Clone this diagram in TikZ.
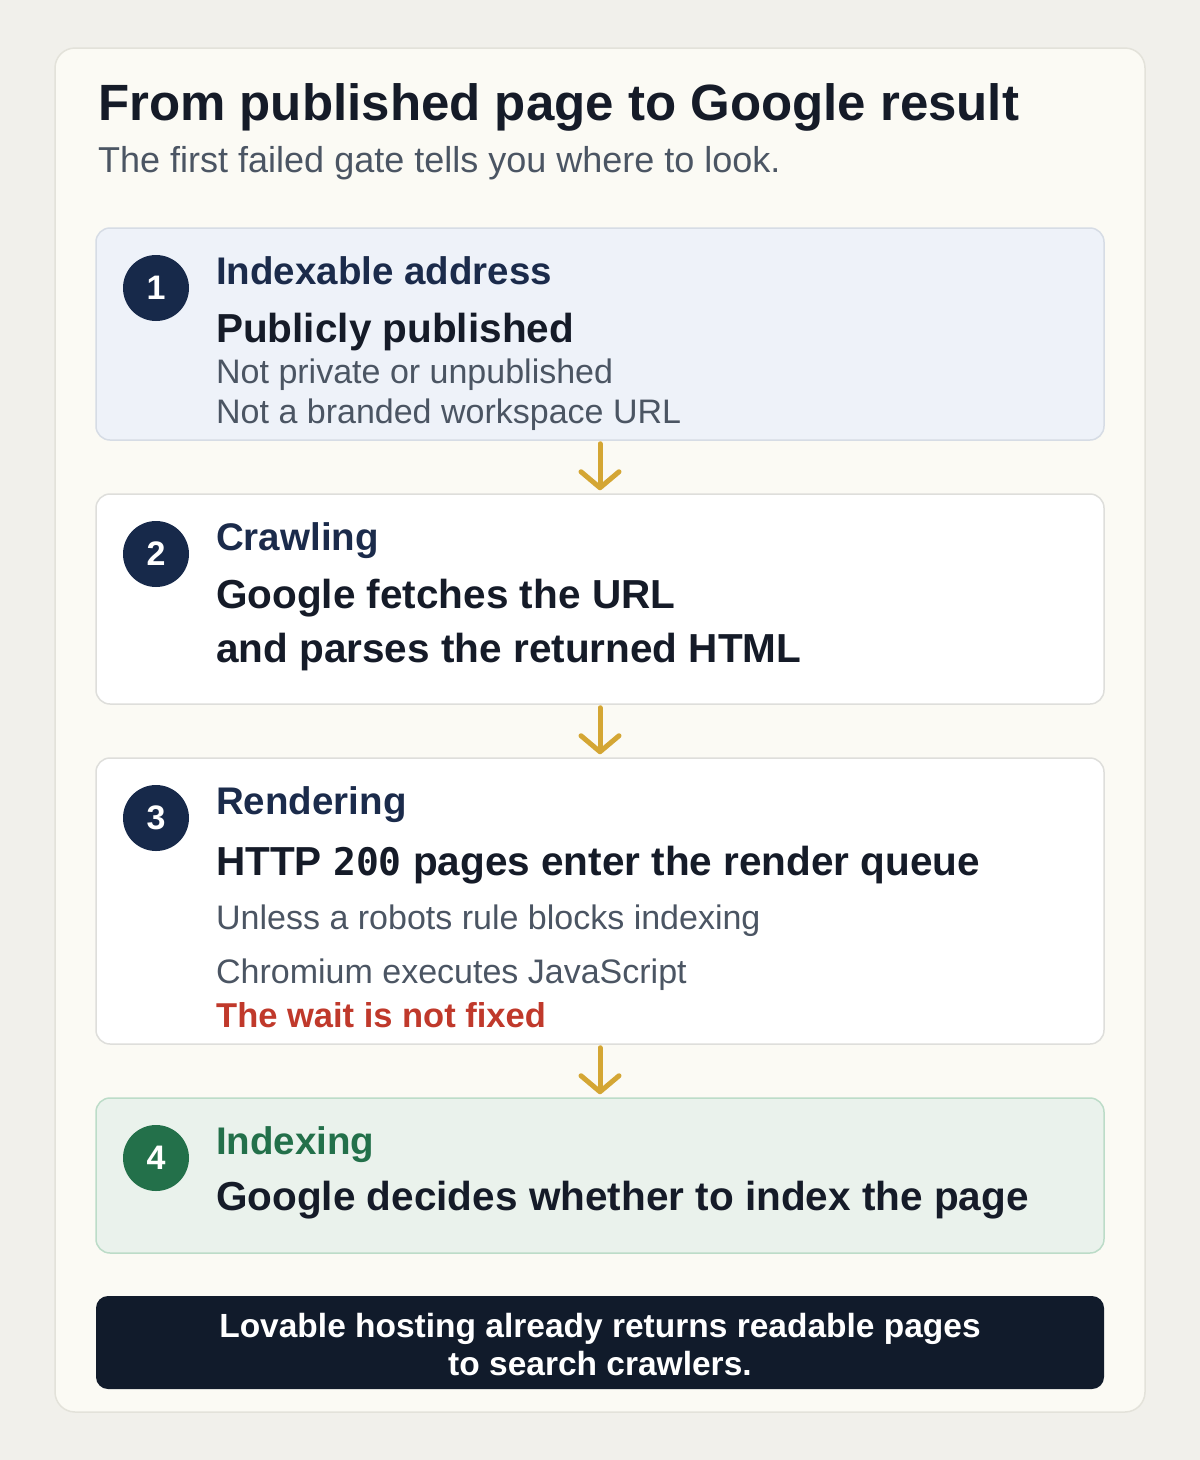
\documentclass[tikz,border=0pt]{standalone}
\usepackage{fontspec}
\setmainfont{Liberation Sans}
\setmonofont{DejaVu Sans Mono}
\usetikzlibrary{arrows.meta}
\definecolor{bgc}{HTML}{F1F0EB}
\definecolor{cardc}{HTML}{FBFAF4}
\definecolor{cardb}{HTML}{E3E2DA}
\definecolor{titlec}{HTML}{151B28}
\definecolor{subc}{HTML}{4B5563}
\definecolor{bluef}{HTML}{EEF2F9}
\definecolor{blueb}{HTML}{D6DCE5}
\definecolor{whiteb}{HTML}{DEDEDB}
\definecolor{navyc}{HTML}{17294A}
\definecolor{headc}{HTML}{1B2B4B}
\definecolor{goldc}{HTML}{D4A634}
\definecolor{redc}{HTML}{C0392B}
\definecolor{greenf}{HTML}{EAF2EC}
\definecolor{greenb}{HTML}{BCDCC8}
\definecolor{greenc}{HTML}{23704A}
\definecolor{footc}{HTML}{111B2B}
\tikzset{
  stagebox/.style={draw, line width=1.5pt, rounded corners=14pt, minimum width=1008pt, inner sep=0pt},
  numdot/.style={circle, fill=navyc, minimum size=66pt, inner sep=0pt, text=white, font=\fontsize{34}{34}\selectfont\bfseries},
  headtxt/.style={anchor=base west, inner sep=0pt, text=headc, font=\fontsize{38.5}{38.5}\selectfont\bfseries},
  maintxt/.style={anchor=base west, inner sep=0pt, text=titlec, font=\fontsize{40.5}{40.5}\selectfont\bfseries},
  subtxt/.style={anchor=base west, inner sep=0pt, text=subc, font=\fontsize{34}{34}\selectfont},
  flowarrow/.style={draw=goldc, line width=5pt, line cap=round, -{Straight Barb[length=16pt, width=38pt, line width=5pt, round]}}
}
\begin{document}
\begin{tikzpicture}[x=1pt, y=-1pt]
\fill[bgc] (0,0) rectangle (1200,1460);
\useasboundingbox (0,0) rectangle (1200,1460);
\node[draw=cardb, fill=cardc, line width=1.5pt, rounded corners=20pt, minimum width=1090pt, minimum height=1364pt, inner sep=0pt] (card) at (600,730) {};
\node[anchor=base west, inner sep=0pt, text=titlec, font=\fontsize{51}{51}\selectfont\bfseries] (title) at (98,120) {From published page to Google result};
\node[anchor=base west, inner sep=0pt, text=subc, font=\fontsize{36}{36}\selectfont] (subtitle) at (98,172) {The first failed gate tells you where to look.};
% box 1
\node[stagebox, draw=blueb, fill=bluef, minimum height=212pt] (b1) at (600,334) {};
\node[numdot] (n1) at (156,288) {1};
\node[headtxt] (h1) at (216,284) {Indexable address};
\node[maintxt] (m1) at (216,342) {Publicly published};
\node[subtxt] (s1a) at (216,383) {Not private or unpublished};
\node[subtxt] (s1b) at (216,423) {Not a branded workspace URL};
% box 2
\node[stagebox, draw=whiteb, fill=white, minimum height=210pt] (b2) at (600,599) {};
\node[numdot] (n2) at (156,554) {2};
\node[headtxt] (h2) at (216,550) {Crawling};
\node[maintxt] (m2a) at (216,608) {Google fetches the URL};
\node[maintxt] (m2b) at (216,662) {and parses the returned HTML};
% box 3
\node[stagebox, draw=whiteb, fill=white, minimum height=286pt] (b3) at (600,901) {};
\node[numdot] (n3) at (156,818) {3};
\node[headtxt] (h3) at (216,814) {Rendering};
\node[maintxt] (m3) at (216,875) {HTTP \texttt{\fontsize{38}{38}\selectfont 200} pages enter the render queue};
\node[subtxt] (s3a) at (216,929) {Unless a robots rule blocks indexing};
\node[subtxt] (s3b) at (216,983) {Chromium executes JavaScript};
\node[anchor=base west, inner sep=0pt, text=redc, font=\fontsize{34.5}{34.5}\selectfont\bfseries] (r3) at (216,1027) {The wait is not fixed};
% box 4
\node[stagebox, draw=greenb, fill=greenf, minimum height=155pt] (b4) at (600,1175.5) {};
\node[numdot, fill=greenc] (n4) at (156,1158) {4};
\node[headtxt, text=greenc] (h4) at (216,1154) {Indexing};
\node[maintxt] (m4) at (216,1210) {Google decides whether to index the page};
% arrows
\draw[flowarrow] ([yshift=-3pt]b1.south) -- ([yshift=3pt]b2.north);
\draw[flowarrow] ([yshift=-3pt]b2.south) -- ([yshift=3pt]b3.north);
\draw[flowarrow] ([yshift=-3pt]b3.south) -- ([yshift=3pt]b4.north);
% footer
\node[fill=footc, rounded corners=12pt, minimum width=1008pt, minimum height=93pt, inner sep=0pt] (foot) at (600,1342.5) {};
\node[anchor=base, inner sep=0pt, text=white, font=\fontsize{33.5}{33.5}\selectfont\bfseries] (f1) at (600,1337) {Lovable hosting already returns readable pages};
\node[anchor=base, inner sep=0pt, text=white, font=\fontsize{33.5}{33.5}\selectfont\bfseries] (f2) at (600,1375) {to search crawlers.};
\end{tikzpicture}
\end{document}
